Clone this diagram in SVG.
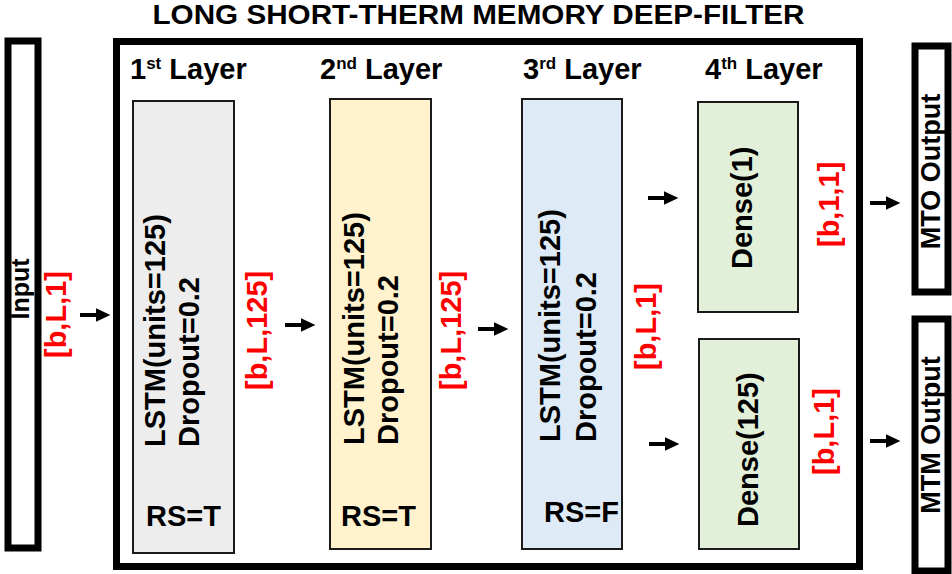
<svg xmlns="http://www.w3.org/2000/svg" width="952" height="574" viewBox="0 0 952 574">
<defs>
<style>
text{font-family:"Liberation Sans",Arial,sans-serif;font-weight:bold;fill:#000}
.t{font-size:29px}
.hdr{font-size:29px}
.sup{font-size:17px}
.red{fill:#FF0000;font-size:29px}
.thick{fill:#fff;stroke:#000;stroke-width:7}
.box{stroke:#1a1a1a;stroke-width:2}
.arr{stroke:#000;stroke-width:4;fill:none}
</style>
<marker id="ah" markerWidth="4" markerHeight="4" refX="0.5" refY="2" orient="auto" markerUnits="strokeWidth">
<path d="M0,0.3 L3.6,2 L0,3.7 Z" fill="#000"/>
</marker>
</defs>
<rect width="952" height="574" fill="#fff"/>
<text x="478.5" y="23.5" text-anchor="middle" textLength="652" lengthAdjust="spacingAndGlyphs" style="font-size:27.5px">LONG SHORT-THERM MEMORY DEEP-FILTER</text>

<g id="input">
<rect class="thick" x="8" y="41" width="30" height="507" stroke-width="6"/>
<text transform="translate(29,289) rotate(-90)" text-anchor="middle" style="font-size:25px">Input</text>
</g>

<g id="main">
<rect class="thick" x="116.5" y="41.5" width="743" height="525"/>
<text class="hdr" x="130" y="79">1<tspan class="sup" dy="-10">st</tspan><tspan dy="10"> Layer</tspan></text>
<text class="hdr" x="320" y="79">2<tspan class="sup" dy="-10">nd</tspan><tspan dy="10"> Layer</tspan></text>
<text class="hdr" x="523" y="79">3<tspan class="sup" dy="-10">rd</tspan><tspan dy="10"> Layer</tspan></text>
<text class="hdr" x="705" y="79">4<tspan class="sup" dy="-10">th</tspan><tspan dy="10"> Layer</tspan></text>
</g>

<g id="lstm1">
<rect class="box" x="133" y="101" width="101" height="452" fill="#EDEDED"/>
<text class="t" transform="translate(165,447) rotate(-90)">LSTM(units=125)</text>
<text class="t" transform="translate(199,447) rotate(-90)">Dropout=0.2</text>
<text class="t" x="146" y="526">RS=T</text>
</g>

<g id="lstm2">
<rect class="box" x="330" y="99" width="101" height="450" fill="#FFF2CC"/>
<text class="t" transform="translate(363.5,445) rotate(-90)">LSTM(units=125)</text>
<text class="t" transform="translate(397.5,445) rotate(-90)">Dropout=0.2</text>
<text class="t" x="341" y="526">RS=T</text>
</g>

<g id="lstm3">
<rect class="box" x="522" y="99" width="100" height="450" fill="#DEEBF7"/>
<text class="t" transform="translate(560,442) rotate(-90)">LSTM(units=125)</text>
<text class="t" transform="translate(596,442) rotate(-90)">Dropout=0.2</text>
<text class="t" x="544" y="522">RS=F</text>
</g>

<g id="dense1">
<rect class="box" x="698" y="102" width="100" height="210" fill="#E2F0D9"/>
<text class="t" transform="translate(752,269) rotate(-90)">Dense(1)</text>
</g>

<g id="dense125">
<rect class="box" x="699" y="339" width="100" height="210" fill="#E2F0D9"/>
<text class="t" transform="translate(758,527) rotate(-90)">Dense(125)</text>
</g>

<g id="mto">
<rect class="thick" x="915" y="46" width="33" height="246" stroke-width="6"/>
<text transform="translate(940,171.5) rotate(-90)" text-anchor="middle" style="font-size:27px">MTO Output</text>
</g>

<g id="mtm">
<rect class="thick" x="915" y="319" width="33" height="252" stroke-width="6"/>
<text transform="translate(940,435) rotate(-90)" text-anchor="middle" style="font-size:27px">MTM Output</text>
</g>

<g id="labels">
<text class="red" transform="translate(66,358) rotate(-90)">[b,L,1]</text>
<text class="red" transform="translate(267,390) rotate(-90)">[b,L,125]</text>
<text class="red" transform="translate(461,390) rotate(-90)">[b,L,125]</text>
<text class="red" transform="translate(656,370) rotate(-90)">[b,L,1]</text>
<text class="red" transform="translate(839,247) rotate(-90)">[b,1,1]</text>
<text class="red" transform="translate(834,475) rotate(-90)">[b,L,1]</text>
</g>

<g id="connectors">
<line class="arr" x1="80" y1="315" x2="98" y2="315" marker-end="url(#ah)"/>
<line class="arr" x1="285" y1="325" x2="303" y2="325" marker-end="url(#ah)"/>
<line class="arr" x1="478" y1="329" x2="496" y2="329" marker-end="url(#ah)"/>
<line class="arr" x1="648" y1="198" x2="666" y2="198" marker-end="url(#ah)"/>
<line class="arr" x1="649" y1="444" x2="667" y2="444" marker-end="url(#ah)"/>
<line class="arr" x1="870" y1="203" x2="888" y2="203" marker-end="url(#ah)"/>
<line class="arr" x1="870" y1="441" x2="888" y2="441" marker-end="url(#ah)"/>
</g>
</svg>
